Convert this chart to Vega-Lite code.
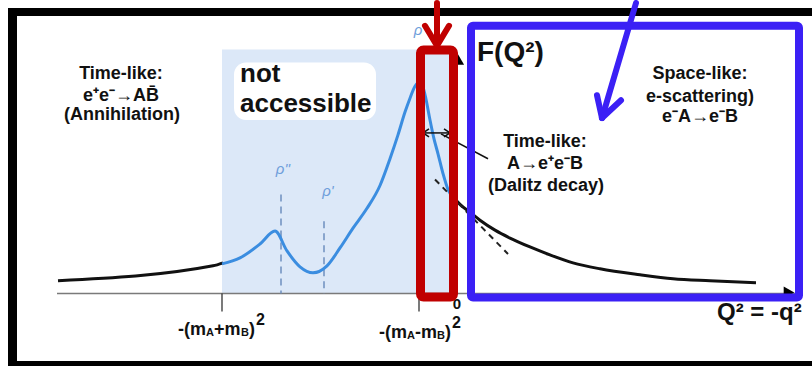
{
  "$schema": "https://vega.github.io/schema/vega-lite/v6.json",
  "width": 812,
  "height": 366,
  "padding": 0,
  "autosize": {"type": "fit", "contains": "padding"},
  "background": "white",
  "config": {"view": {"stroke": null}},
  "datasets": {
    "frame": [
      {"x": 8, "x2": 812, "y": 5, "y2": 13},
      {"x": 8, "x2": 17, "y": 5, "y2": 366},
      {"x": 8, "x2": 812, "y": 361, "y2": 366}
    ],
    "shade": [{"x": 222, "x2": 452, "y": 47, "y2": 293}],
    "whitebox": [{"x": 234, "x2": 376, "y": 60, "y2": 118}],
    "axisline": [{"x": 57, "x2": 796, "y": 293, "y2": 293}],
    "ticks": [
      {"x": 222, "x2": 222, "y": 293, "y2": 311},
      {"x": 419, "x2": 419, "y": 293, "y2": 311}
    ],
    "dashes": [
      {"x": 281, "x2": 281, "y": 193, "y2": 293},
      {"x": 324, "x2": 324, "y": 220, "y2": 293}
    ],
    "yhead": [{"x": 457, "y": 56}],
    "xhead": [{"x": 789, "y": 292}],
    "blackcurve": [
      {"seg": "left", "x": 58, "y": 280},
      {"seg": "left", "x": 213, "y": 265},
      {"seg": "left", "x": 223, "y": 262},
      {"seg": "right", "x": 452, "y": 194},
      {"seg": "right", "x": 460, "y": 203},
      {"seg": "right", "x": 470, "y": 211},
      {"seg": "right", "x": 480, "y": 219},
      {"seg": "right", "x": 495, "y": 229},
      {"seg": "right", "x": 510, "y": 237},
      {"seg": "right", "x": 530, "y": 246},
      {"seg": "right", "x": 550, "y": 254},
      {"seg": "right", "x": 573, "y": 262},
      {"seg": "right", "x": 600, "y": 268},
      {"seg": "right", "x": 640, "y": 274},
      {"seg": "right", "x": 673, "y": 278},
      {"seg": "right", "x": 710, "y": 280},
      {"seg": "right", "x": 756, "y": 282}
    ],
    "bluecurve": [
      {"x": 222, "y": 263},
      {"x": 240, "y": 257},
      {"x": 260, "y": 243},
      {"x": 275, "y": 230},
      {"x": 287, "y": 250},
      {"x": 300, "y": 266},
      {"x": 313, "y": 272},
      {"x": 327, "y": 265},
      {"x": 340, "y": 247},
      {"x": 353, "y": 227},
      {"x": 367, "y": 207},
      {"x": 380, "y": 184},
      {"x": 390, "y": 157},
      {"x": 398, "y": 133},
      {"x": 405, "y": 110},
      {"x": 410, "y": 96},
      {"x": 415, "y": 84},
      {"x": 419, "y": 80},
      {"x": 423, "y": 85},
      {"x": 426, "y": 97},
      {"x": 430, "y": 118},
      {"x": 434, "y": 137},
      {"x": 438, "y": 152},
      {"x": 443, "y": 172},
      {"x": 448, "y": 188},
      {"x": 452, "y": 195}
    ],
    "tangent": [{"x": 435, "x2": 508, "y": 178, "y2": 253}],
    "smallarrow": [
      {"x": 423, "x2": 450, "y": 131, "y2": 131},
      {"x": 423, "x2": 429, "y": 131, "y2": 127},
      {"x": 423, "x2": 429, "y": 131, "y2": 135},
      {"x": 450, "x2": 444, "y": 131, "y2": 127},
      {"x": 450, "x2": 444, "y": 131, "y2": 135},
      {"x": 441, "x2": 488, "y": 132, "y2": 157}
    ],
    "labels": [
      {"x": 121, "y": 72, "t": "Time-like:"},
      {"x": 121, "y": 94, "t": "e⁺e⁻→AB̄"},
      {"x": 122, "y": 113, "t": "(Annihilation)"},
      {"x": 700, "y": 72, "t": "Space-like:"},
      {"x": 700, "y": 95, "t": "e-scattering)"},
      {"x": 700, "y": 115, "t": "e⁻A→e⁻B"},
      {"x": 545, "y": 140, "t": "Time-like:"},
      {"x": 545, "y": 162, "t": "A→e⁺e⁻B"},
      {"x": 546, "y": 185, "t": "(Dalitz decay)"}
    ],
    "notacc": [
      {"x": 240, "y": 80, "t": "not"},
      {"x": 240, "y": 110, "t": "accessible"}
    ],
    "ftitle": [{"x": 477, "y": 58, "t": "F(Q²)"}],
    "qlabel": [{"x": 717, "y": 320, "t": "Q² = -q²"}],
    "zero": [{"x": 457, "y": 309, "t": "0"}],
    "rho": [
      {"x": 283, "y": 167, "t": "ρ''"},
      {"x": 328, "y": 190, "t": "ρ'"},
      {"x": 418, "y": 27, "t": "ρ"}
    ],
    "subMain": [
      {"x": 178, "y": 335, "t": "-(m"},
      {"x": 214, "y": 335, "t": "+m"},
      {"x": 249, "y": 335, "t": ")"},
      {"x": 379, "y": 338, "t": "-(m"},
      {"x": 415, "y": 338, "t": "-m"},
      {"x": 445, "y": 338, "t": ")"}
    ],
    "subSmall": [
      {"x": 206, "y": 336, "t": "A"},
      {"x": 241, "y": 336, "t": "B"},
      {"x": 407, "y": 339, "t": "A"},
      {"x": 437, "y": 339, "t": "B"}
    ],
    "supers": [
      {"x": 256, "y": 325, "t": "2"},
      {"x": 452, "y": 328, "t": "2"}
    ],
    "redbox": [{"x": 420.5, "x2": 453.5, "y": 47.5, "y2": 296.5}],
    "bluebox": [{"x": 471, "x2": 799, "y": 23, "y2": 297}],
    "redarrow": [
      {"x": 437, "x2": 437, "y": 0, "y2": 41},
      {"x": 425, "x2": 437, "y": 23, "y2": 43},
      {"x": 449, "x2": 437, "y": 23, "y2": 43}
    ],
    "bluearrow": [
      {"x": 636, "x2": 602, "y": 0, "y2": 116},
      {"x": 597, "x2": 602, "y": 93, "y2": 116},
      {"x": 621, "x2": 602, "y": 98, "y2": 116}
    ]
  },
  "encoding": {
    "x": {"field": "x", "type": "quantitative", "scale": {"domain": [0, 812], "nice": false, "zero": false}, "axis": null},
    "y": {"field": "y", "type": "quantitative", "scale": {"domain": [0, 366], "nice": false, "zero": false, "reverse": true}, "axis": null}
  },
  "layer": [
    {"data": {"name": "frame"}, "mark": {"type": "rect", "fill": "#000000"}, "encoding": {"x2": {"field": "x2"}, "y2": {"field": "y2"}}},
    {"data": {"name": "shade"}, "mark": {"type": "rect", "fill": "#dce8f8"}, "encoding": {"x2": {"field": "x2"}, "y2": {"field": "y2"}}},
    {"data": {"name": "whitebox"}, "mark": {"type": "rect", "fill": "#ffffff", "cornerRadius": 12}, "encoding": {"x2": {"field": "x2"}, "y2": {"field": "y2"}}},
    {"data": {"name": "axisline"}, "mark": {"type": "rule", "stroke": "#7a7a7a", "strokeWidth": 1.5}, "encoding": {"x2": {"field": "x2"}, "y2": {"field": "y2"}}},
    {"data": {"name": "ticks"}, "mark": {"type": "rule", "stroke": "#222222", "strokeWidth": 1.2}, "encoding": {"x2": {"field": "x2"}, "y2": {"field": "y2"}}},
    {"data": {"name": "dashes"}, "mark": {"type": "rule", "stroke": "#6d8fbf", "strokeWidth": 1.5, "strokeDash": [7, 5]}, "encoding": {"x2": {"field": "x2"}, "y2": {"field": "y2"}}},
    {"data": {"name": "yhead"}, "mark": {"type": "point", "shape": "triangle-up", "filled": true, "fill": "#000000", "opacity": 1, "size": 200}},
    {"data": {"name": "xhead"}, "mark": {"type": "point", "shape": "triangle-right", "filled": true, "fill": "#000000", "opacity": 1, "size": 150}},
    {"data": {"name": "blackcurve"}, "mark": {"type": "line", "stroke": "#111111", "strokeWidth": 3, "interpolate": "monotone"}, "encoding": {"detail": {"field": "seg"}}},
    {"data": {"name": "bluecurve"}, "mark": {"type": "line", "stroke": "#3b8de0", "strokeWidth": 3, "interpolate": "monotone"}},
    {"data": {"name": "tangent"}, "mark": {"type": "rule", "stroke": "#222222", "strokeWidth": 2, "strokeDash": [6, 5]}, "encoding": {"x2": {"field": "x2"}, "y2": {"field": "y2"}}},
    {"data": {"name": "smallarrow"}, "mark": {"type": "rule", "stroke": "#111111", "strokeWidth": 1.5}, "encoding": {"x2": {"field": "x2"}, "y2": {"field": "y2"}}},
    {"data": {"name": "labels"}, "mark": {"type": "text", "font": "Liberation Sans", "fontWeight": "bold", "fontSize": 18, "align": "center", "baseline": "middle", "color": "#111111"}, "encoding": {"text": {"field": "t"}}},
    {"data": {"name": "notacc"}, "mark": {"type": "text", "font": "Liberation Sans", "fontWeight": "bold", "fontSize": 26, "align": "left", "baseline": "alphabetic", "color": "#111111"}, "encoding": {"text": {"field": "t"}}},
    {"data": {"name": "ftitle"}, "mark": {"type": "text", "font": "Liberation Sans", "fontWeight": "bold", "fontSize": 28, "align": "left", "baseline": "alphabetic", "color": "#111111"}, "encoding": {"text": {"field": "t"}}},
    {"data": {"name": "qlabel"}, "mark": {"type": "text", "font": "Liberation Sans", "fontWeight": "bold", "fontSize": 24, "align": "left", "baseline": "alphabetic", "color": "#111111"}, "encoding": {"text": {"field": "t"}}},
    {"data": {"name": "zero"}, "mark": {"type": "text", "font": "Liberation Sans", "fontWeight": "bold", "fontSize": 15, "align": "center", "baseline": "alphabetic", "color": "#111111"}, "encoding": {"text": {"field": "t"}}},
    {"data": {"name": "rho"}, "mark": {"type": "text", "font": "Liberation Sans", "fontStyle": "italic", "fontSize": 15, "align": "center", "baseline": "middle", "color": "#6f9edb"}, "encoding": {"text": {"field": "t"}}},
    {"data": {"name": "subMain"}, "mark": {"type": "text", "font": "Liberation Sans", "fontWeight": "bold", "fontSize": 18, "align": "left", "baseline": "alphabetic", "color": "#111111"}, "encoding": {"text": {"field": "t"}}},
    {"data": {"name": "subSmall"}, "mark": {"type": "text", "font": "Liberation Sans", "fontWeight": "bold", "fontSize": 11, "align": "left", "baseline": "alphabetic", "color": "#111111"}, "encoding": {"text": {"field": "t"}}},
    {"data": {"name": "supers"}, "mark": {"type": "text", "font": "Liberation Sans", "fontWeight": "bold", "fontSize": 16, "align": "left", "baseline": "alphabetic", "color": "#111111"}, "encoding": {"text": {"field": "t"}}},
    {"data": {"name": "redbox"}, "mark": {"type": "rect", "fillOpacity": 0, "stroke": "#c00000", "strokeWidth": 9, "cornerRadius": 3}, "encoding": {"x2": {"field": "x2"}, "y2": {"field": "y2"}}},
    {"data": {"name": "bluebox"}, "mark": {"type": "rect", "fillOpacity": 0, "stroke": "#3b20f5", "strokeWidth": 8, "cornerRadius": 2}, "encoding": {"x2": {"field": "x2"}, "y2": {"field": "y2"}}},
    {"data": {"name": "redarrow"}, "mark": {"type": "rule", "stroke": "#c00000", "strokeWidth": 6, "strokeCap": "round"}, "encoding": {"x2": {"field": "x2"}, "y2": {"field": "y2"}}},
    {"data": {"name": "bluearrow"}, "mark": {"type": "rule", "stroke": "#3b20f5", "strokeWidth": 6, "strokeCap": "round"}, "encoding": {"x2": {"field": "x2"}, "y2": {"field": "y2"}}}
  ]
}
